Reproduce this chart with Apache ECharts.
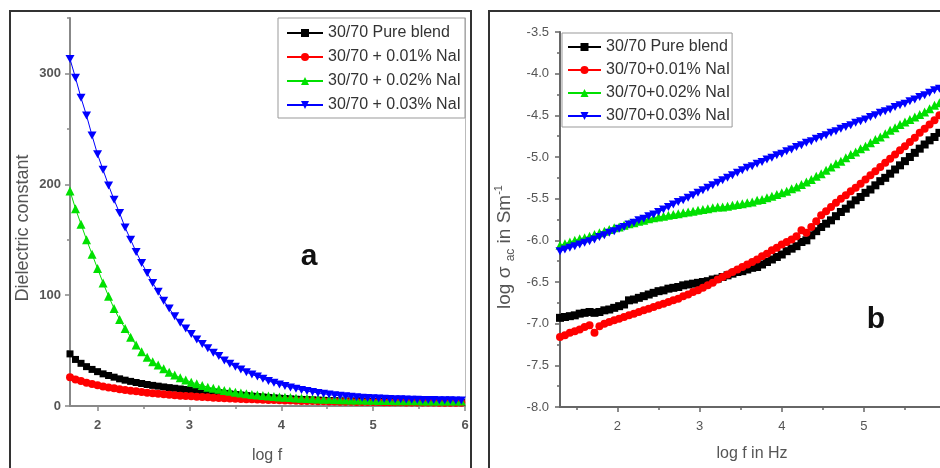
<!DOCTYPE html>
<html>
<head>
<meta charset="utf-8">
<title>Dielectric constant and ac conductivity</title>
<script src="https://cdn.jsdelivr.net/npm/echarts@6/dist/echarts.min.js"></script>
<style>
  html, body { margin: 0; padding: 0; background: #fff; }
  #chart { width: 940px; height: 468px; }
</style>
</head>
<body>
<div id="chart"></div>
<script>
// panel a : dielectric constant vs log f
var xLeft = [
  1.70, 1.76, 1.82, 1.88, 1.94, 2.00, 2.06, 2.12, 2.18, 2.24,
  2.30, 2.36, 2.42, 2.48, 2.54, 2.60, 2.66, 2.72, 2.78, 2.84,
  2.90, 2.96, 3.02, 3.08, 3.14, 3.20, 3.26, 3.32, 3.38, 3.44,
  3.50, 3.56, 3.62, 3.68, 3.74, 3.80, 3.86, 3.92, 3.98, 4.04,
  4.10, 4.16, 4.22, 4.28, 4.34, 4.40, 4.46, 4.52, 4.58, 4.64,
  4.70, 4.76, 4.82, 4.88, 4.94, 5.00, 5.06, 5.12, 5.18, 5.24,
  5.30, 5.36, 5.42, 5.48, 5.54, 5.60, 5.66, 5.72, 5.78, 5.84,
  5.90, 5.96
];
var dielBlend = [
  47, 42, 38.5, 35.5, 33, 31, 29, 27.5, 26, 24.5,
  23.3, 22.2, 21.2, 20.3, 19.4, 18.6, 17.9, 17.2, 16.6, 16.0,
  15.4, 14.9, 14.4, 13.9, 13.4, 12.9, 12.4, 11.9, 11.4, 10.9,
  10.4, 9.9, 9.4, 8.9, 8.5, 8.1, 7.7, 7.3, 7.0, 6.7,
  6.4, 6.1, 5.9, 5.7, 5.5, 5.3, 5.1, 4.9, 4.8, 4.6,
  4.5, 4.4, 4.3, 4.2, 4.1, 4.0, 3.9, 3.9, 3.8, 3.7,
  3.7, 3.6, 3.6, 3.5, 3.5, 3.4, 3.4, 3.4, 3.3, 3.3,
  3.3, 3.2
];
var diel001 = [
  26, 24, 22.5, 21, 19.8, 18.7, 17.7, 16.8, 16.0, 15.2,
  14.5, 13.8, 13.2, 12.6, 12.0, 11.5, 11.0, 10.5, 10.1, 9.7,
  9.3, 9.0, 8.7, 8.4, 8.1, 7.8, 7.5, 7.3, 7.0, 6.8,
  6.6, 6.4, 6.2, 6.0, 5.8, 5.6, 5.5, 5.3, 5.2, 5.0,
  4.9, 4.8, 4.6, 4.5, 4.4, 4.3, 4.2, 4.1, 4.0, 3.9,
  3.8, 3.8, 3.7, 3.6, 3.6, 3.5, 3.5, 3.4, 3.4, 3.3,
  3.3, 3.2, 3.2, 3.2, 3.1, 3.1, 3.1, 3.0, 3.0, 3.0,
  3.0, 2.9
];
var diel002 = [
  194, 178, 164, 150, 137, 124, 111, 99, 88, 78,
  70, 62, 55, 49, 44, 40, 37, 33.5, 30.5, 28,
  25.5, 23.5, 21.5, 20, 18.5, 17, 16, 15, 14, 13.2,
  12.4, 11.7, 11, 10.4, 9.9, 9.4, 9.0, 8.6, 8.2, 7.9,
  7.6, 7.3, 7.0, 6.8, 6.6, 6.4, 6.2, 6.0, 5.9, 5.7,
  5.6, 5.5, 5.4, 5.3, 5.2, 5.1, 5.0, 4.9, 4.9, 4.8,
  4.8, 4.7, 4.7, 4.7, 4.6, 4.6, 4.6, 4.5, 4.5, 4.5,
  4.5, 4.4
];
var diel003 = [
  313, 296, 278, 262, 244, 227, 213, 199, 186, 174,
  161, 150, 139, 129, 120, 111, 103, 95, 88, 81,
  75, 70, 65, 60, 56, 52, 48, 45, 41, 38,
  35.5, 33, 30.5, 28.5, 26.5, 24.5, 22.5, 21, 19.5, 18,
  16.8, 15.6, 14.5, 13.5, 12.6, 11.8, 11, 10.3, 9.7, 9.2,
  8.7, 8.3, 7.9, 7.5, 7.2, 6.9, 6.7, 6.5, 6.3, 6.1,
  6.0, 5.8, 5.7, 5.6, 5.5, 5.4, 5.3, 5.2, 5.1, 5.1,
  5.0, 5.0
];
var namesLeft = ['30/70 Pure blend', '30/70 + 0.01% NaI', '30/70 + 0.02% NaI', '30/70 + 0.03% NaI'];
var leftMajorX = [2, 3, 4, 5, 6];
var leftMinorX = [2.5, 3.5, 4.5, 5.5];
var leftMajorY = [0, 100, 200, 300];
var leftMinorY = [50, 150, 250, 350];

// panel b : log sigma_ac vs log f
var xRight = [
  1.30, 1.36, 1.42, 1.48, 1.54, 1.60, 1.66, 1.72, 1.78, 1.84,
  1.90, 1.96, 2.02, 2.08, 2.14, 2.20, 2.26, 2.32, 2.38, 2.44,
  2.50, 2.56, 2.62, 2.68, 2.74, 2.80, 2.86, 2.92, 2.98, 3.04,
  3.10, 3.16, 3.22, 3.28, 3.34, 3.40, 3.46, 3.52, 3.58, 3.64,
  3.70, 3.76, 3.82, 3.88, 3.94, 4.00, 4.06, 4.12, 4.18, 4.24,
  4.30, 4.36, 4.42, 4.48, 4.54, 4.60, 4.66, 4.72, 4.78, 4.84,
  4.90, 4.96, 5.02, 5.08, 5.14, 5.20, 5.26, 5.32, 5.38, 5.44,
  5.50, 5.56, 5.62, 5.68, 5.74, 5.80, 5.86, 5.92, 5.98
];
var sigmaBlend = [
  -6.93, -6.92, -6.91, -6.90, -6.88, -6.87, -6.86, -6.87, -6.86, -6.84,
  -6.83, -6.81, -6.79, -6.77, -6.72, -6.71, -6.69, -6.67, -6.65, -6.63,
  -6.61, -6.60, -6.58, -6.57, -6.56, -6.54, -6.53, -6.52, -6.51, -6.50,
  -6.49, -6.47, -6.46, -6.44, -6.42, -6.40, -6.38, -6.37, -6.35, -6.33,
  -6.32, -6.29, -6.26, -6.23, -6.20, -6.17, -6.13, -6.10, -6.07, -6.02,
  -6.00, -5.94, -5.89, -5.84, -5.80, -5.76, -5.71, -5.66, -5.62, -5.57,
  -5.52, -5.48, -5.43, -5.39, -5.34, -5.29, -5.25, -5.20, -5.15, -5.10,
  -5.05, -5.00, -4.95, -4.90, -4.85, -4.80, -4.76, -4.71, -4.66
];
var sigma001 = [
  -7.16, -7.14, -7.11, -7.09, -7.07, -7.04, -7.02, -7.11, -7.03, -7.00,
  -6.98, -6.96, -6.94, -6.92, -6.90, -6.88, -6.86, -6.84, -6.82, -6.80,
  -6.78, -6.76, -6.74, -6.72, -6.70, -6.67, -6.65, -6.62, -6.60, -6.57,
  -6.54, -6.51, -6.47, -6.44, -6.41, -6.38, -6.35, -6.32, -6.29, -6.26,
  -6.23, -6.19, -6.16, -6.12, -6.09, -6.05, -6.02, -5.99, -5.95, -5.88,
  -5.91, -5.84, -5.77, -5.70, -5.65, -5.60, -5.55, -5.50, -5.46, -5.41,
  -5.37, -5.32, -5.27, -5.22, -5.17, -5.12, -5.07, -5.02, -4.97, -4.92,
  -4.87, -4.82, -4.77, -4.71, -4.66, -4.61, -4.56, -4.50, -4.45
];
var sigma002 = [
  -6.06, -6.04, -6.02, -6.00, -5.98, -5.97, -5.95, -5.93, -5.91, -5.89,
  -5.87, -5.85, -5.84, -5.82, -5.80, -5.79, -5.77, -5.76, -5.74, -5.73,
  -5.72, -5.71, -5.70, -5.69, -5.68, -5.67, -5.66, -5.65, -5.64, -5.63,
  -5.62, -5.61, -5.60, -5.60, -5.59, -5.58, -5.57, -5.56, -5.55, -5.54,
  -5.52, -5.51, -5.49, -5.47, -5.45, -5.43, -5.41, -5.38, -5.36, -5.33,
  -5.30, -5.27, -5.23, -5.20, -5.16, -5.12, -5.08, -5.05, -5.01, -4.97,
  -4.94, -4.90, -4.87, -4.83, -4.79, -4.76, -4.72, -4.68, -4.65, -4.61,
  -4.58, -4.55, -4.52, -4.49, -4.46, -4.42, -4.38, -4.35, -4.31
];
var sigma003 = [
  -6.13, -6.11, -6.09, -6.07, -6.05, -6.03, -6.01, -5.99, -5.96, -5.94,
  -5.91, -5.89, -5.86, -5.84, -5.81, -5.79, -5.76, -5.74, -5.71, -5.69,
  -5.66, -5.63, -5.60, -5.57, -5.54, -5.52, -5.49, -5.46, -5.43, -5.40,
  -5.37, -5.34, -5.31, -5.28, -5.25, -5.22, -5.19, -5.16, -5.13, -5.11,
  -5.08, -5.06, -5.03, -5.01, -4.98, -4.96, -4.93, -4.91, -4.88, -4.86,
  -4.83, -4.81, -4.78, -4.76, -4.74, -4.71, -4.69, -4.66, -4.64, -4.62,
  -4.59, -4.57, -4.55, -4.52, -4.50, -4.47, -4.45, -4.43, -4.40, -4.38,
  -4.36, -4.33, -4.31, -4.28, -4.26, -4.23, -4.20, -4.18, -4.15
];
var namesRight = ['30/70 Pure blend', '30/70+0.01% NaI', '30/70+0.02% NaI', '30/70+0.03% NaI'];
var rightMajorX = [2, 3, 4, 5, 6];
var rightMinorX = [1.5, 2.5, 3.5, 4.5, 5.5];

var colors = ['#000000', '#ff0000', '#00e000', '#0000ff'];
var downTri = 'path://M0,0L10,0L5,9Z';
var font = "'Liberation Sans', Arial, sans-serif";

function makeSeries(name, xs, ys, color, symbol, size, xi, yi) {
  return {
    name: name,
    type: 'line',
    xAxisIndex: xi,
    yAxisIndex: yi,
    data: xs.map(function (x, i) { return [x, ys[i]]; }),
    symbol: symbol,
    symbolSize: size,
    itemStyle: { color: color },
    lineStyle: { color: color, width: 1 },
    emphasis: { disabled: true },
    animation: false
  };
}

function mainX(grid, min, max, ticks, color, bold) {
  return {
    type: 'value', gridIndex: grid, min: min, max: max, position: 'bottom',
    axisLine: { show: true, onZero: false, lineStyle: { color: color, width: 2 } },
    axisTick: { show: true, customValues: ticks, length: 5, lineStyle: { color: color, width: 1.5 } },
    axisLabel: { customValues: ticks, margin: 13, fontSize: 13, fontWeight: bold ? 'bold' : 'normal', color: '#555' },
    splitLine: { show: false }
  };
}
function minorX(grid, min, max, ticks, color) {
  return {
    type: 'value', gridIndex: grid, min: min, max: max, position: 'bottom',
    axisLine: { show: false, onZero: false },
    axisTick: { show: true, customValues: ticks, length: 3, lineStyle: { color: color, width: 1.5 } },
    axisLabel: { show: false },
    splitLine: { show: false }
  };
}

var chart = echarts.init(document.getElementById('chart'));
chart.setOption({
  animation: false,
  backgroundColor: '#fff',
  textStyle: { fontFamily: font },
  grid: [
    { left: 70, top: 18, width: 395, height: 388, outerBoundsMode: 'none' },
    { left: 560, top: 32, width: 386, height: 375, outerBoundsMode: 'none' }
  ],
  xAxis: [
    mainX(0, 1.7, 6, leftMajorX, '#888', true),
    minorX(0, 1.7, 6, leftMinorX, '#888'),
    mainX(1, 1.3, 6, rightMajorX, '#666', false),
    minorX(1, 1.3, 6, rightMinorX, '#666')
  ],
  yAxis: [
    {
      type: 'value', gridIndex: 0, min: 0, max: 350, position: 'left',
      axisLine: { show: true, onZero: false, lineStyle: { color: '#888', width: 2 } },
      axisTick: { show: true, customValues: leftMajorY, length: 5, lineStyle: { color: '#888', width: 1.5 } },
      axisLabel: { customValues: leftMajorY, margin: 9, fontSize: 13, fontWeight: 'bold', color: '#555' },
      splitLine: { show: false }
    },
    {
      type: 'value', gridIndex: 0, min: 0, max: 350, position: 'left',
      axisLine: { show: false, onZero: false },
      axisTick: { show: true, customValues: leftMinorY, length: 3, lineStyle: { color: '#888', width: 1.5 } },
      axisLabel: { show: false },
      splitLine: { show: false }
    },
    {
      type: 'value', gridIndex: 0, min: 0, max: 350, position: 'right',
      axisLine: { show: true, onZero: false, lineStyle: { color: '#bbb', width: 1 } },
      axisTick: { show: false },
      axisLabel: { show: false },
      splitLine: { show: false }
    },
    {
      type: 'value', gridIndex: 1, min: -8, max: -3.5, interval: 0.5, position: 'left',
      axisLine: { show: true, onZero: false, lineStyle: { color: '#666', width: 2 } },
      axisTick: { show: true, length: 5, lineStyle: { color: '#666', width: 1.5 } },
      minorTick: { show: true, splitNumber: 2, length: 3, lineStyle: { color: '#666', width: 1.5 } },
      axisLabel: { margin: 11, fontSize: 13, color: '#555', formatter: function (v) { return v.toFixed(1); } },
      splitLine: { show: false },
      minorSplitLine: { show: false }
    }
  ],
  legend: [
    {
      orient: 'vertical', left: 278, top: 18, padding: [7, 4, 5, 8], itemGap: 8,
      itemWidth: 36, itemHeight: 10, selectedMode: false,
      backgroundColor: '#fff', borderColor: '#999', borderWidth: 1,
      textStyle: { fontSize: 16, color: '#333', fontFamily: font },
      data: namesLeft
    },
    {
      orient: 'vertical', left: 562, top: 33, padding: [6, 2, 3, 5], itemGap: 7,
      itemWidth: 33, itemHeight: 10, selectedMode: false,
      backgroundColor: '#fff', borderColor: '#999', borderWidth: 1,
      textStyle: { fontSize: 16, color: '#333', fontFamily: font },
      data: namesRight
    }
  ],
  series: [
    makeSeries(namesLeft[0], xLeft, dielBlend, colors[0], 'rect', 7, 0, 0),
    makeSeries(namesLeft[1], xLeft, diel001, colors[1], 'circle', 8, 0, 0),
    makeSeries(namesLeft[2], xLeft, diel002, colors[2], 'triangle', 9, 0, 0),
    makeSeries(namesLeft[3], xLeft, diel003, colors[3], downTri, [9, 8], 0, 0),
    makeSeries(namesRight[0], xRight, sigmaBlend, colors[0], 'rect', 8, 2, 3),
    makeSeries(namesRight[1], xRight, sigma001, colors[1], 'circle', 8, 2, 3),
    makeSeries(namesRight[2], xRight, sigma002, colors[2], 'triangle', 9, 2, 3),
    makeSeries(namesRight[3], xRight, sigma003, colors[3], downTri, [9, 8], 2, 3)
  ],
  graphic: [
    // panel frames
    { type: 'rect', shape: { x: 10, y: 11, width: 461, height: 470 }, style: { fill: 'none', stroke: '#333', lineWidth: 2 }, silent: true },
    { type: 'rect', shape: { x: 489, y: 11, width: 470, height: 470 }, style: { fill: 'none', stroke: '#333', lineWidth: 2 }, silent: true },
    // axis titles
    {
      type: 'text', x: 23, y: 228, rotation: Math.PI / 2, silent: true,
      style: { text: 'Dielectric constant', fontSize: 18, fontFamily: font, fill: '#555',
        align: 'center', verticalAlign: 'middle', textAlign: 'center', textVerticalAlign: 'middle' }
    },
    {
      type: 'text', x: 267, y: 456, silent: true,
      style: { text: 'log f', fontSize: 16, fontFamily: font, fill: '#555',
        align: 'center', verticalAlign: 'middle', textAlign: 'center', textVerticalAlign: 'middle' }
    },
    {
      type: 'text', x: 505, y: 247, rotation: Math.PI / 2, silent: true,
      style: {
        text: '{n|log σ }{s|ac}{n| in Sm}{p|-1}',
        align: 'center', verticalAlign: 'middle', textAlign: 'center', textVerticalAlign: 'middle',
        rich: {
          n: { fontSize: 19, fontFamily: font, fill: '#555', lineHeight: 24 },
          s: { fontSize: 12, fontFamily: font, fill: '#555', lineHeight: 12, verticalAlign: 'bottom' },
          p: { fontSize: 11, fontFamily: font, fill: '#555', lineHeight: 12, verticalAlign: 'top' }
        }
      }
    },
    {
      type: 'text', x: 752, y: 454, silent: true,
      style: { text: 'log f in Hz', fontSize: 16, fontFamily: font, fill: '#555',
        align: 'center', verticalAlign: 'middle', textAlign: 'center', textVerticalAlign: 'middle' }
    },
    // panel letters
    {
      type: 'text', x: 309, y: 257, silent: true,
      style: { text: 'a', fontSize: 30, fontWeight: 'bold', fontFamily: font, fill: '#111',
        align: 'center', verticalAlign: 'middle', textAlign: 'center', textVerticalAlign: 'middle' }
    },
    {
      type: 'text', x: 876, y: 320, silent: true,
      style: { text: 'b', fontSize: 30, fontWeight: 'bold', fontFamily: font, fill: '#111',
        align: 'center', verticalAlign: 'middle', textAlign: 'center', textVerticalAlign: 'middle' }
    }
  ]
});
</script>
</body>
</html>
